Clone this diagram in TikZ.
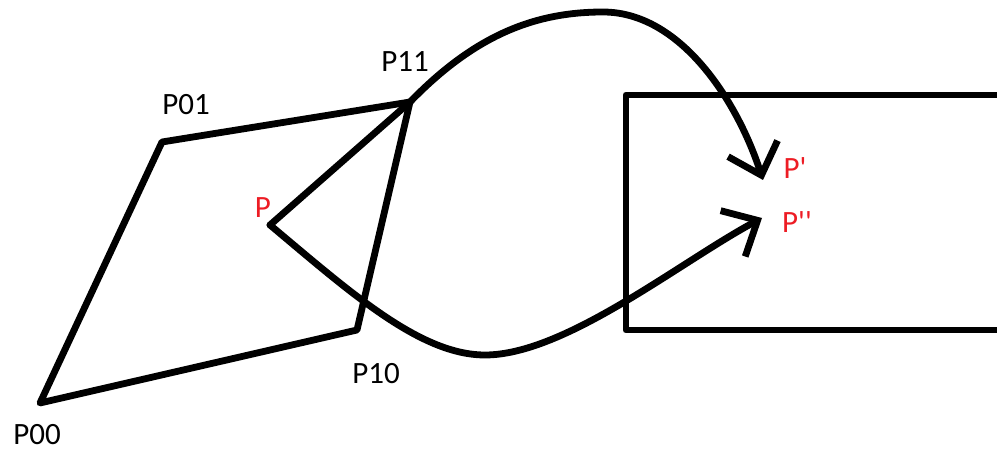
\documentclass[tikz,border=0pt]{standalone}
\usepackage{fontspec}
\setmainfont{Carlito}
\usepackage{tikz}
\usetikzlibrary{
    arrows.meta,
    positioning,
    calc
}
\usepackage{xcolor}
\definecolor{paintred}{RGB}{237, 28, 36}
\tikzstyle{stroke} = [
    draw=black,
    line width=3.4pt,
    line cap=round,
    line join=round
]
\tikzstyle{corner} = [
    font=\fontsize{15.5}{18}\selectfont,
    text=black,
    inner sep=0pt
]
\tikzstyle{mapped} = [
    font=\fontsize{15.5}{18}\selectfont,
    text=paintred,
    inner sep=0pt
]
\tikzstyle{maparrow} = [
    stroke,
    -{Straight Barb[length=14pt, width=26pt]}
]

\begin{document}
\begin{tikzpicture}[x=0.5pt, y=-0.5pt]
        \useasboundingbox (0,0) rectangle (997,454);

        % Quad corners (left)
        \coordinate (p00) at (40,403);
        \coordinate (p01) at (162,142);
        \coordinate (p11) at (410,102);
        \coordinate (p10) at (357,330);
        \coordinate (p) at (270,225);

        % Corner labels
        \node[corner] (p00label) at (37,435) {P00};
        \node[corner] (p01label) at (186,105) {P01};
        \node[corner] (p11label) at (405,62) {P11};
        \node[corner] (p10label) at (376,374) {P10};
        \node[mapped] (plabel) at (263,208) {P};

        % Target rectangle (right, cut off by the border)
        \coordinate (recttl) at (626,95);
        \coordinate (rectbl) at (626,330);
        \coordinate (recttr) at (1010,95);
        \coordinate (rectbr) at (1010,330);
        \draw[stroke, line cap=butt] (recttr) -- (recttl) -- (rectbl) -- (rectbr);

        % Mapped points
        \coordinate (ptip1) at (763,180);
        \coordinate (ptip2) at (762,218);
        \node[mapped] (p1label) at (795,168) {P\textquotesingle};
        \node[mapped] (p2label) at (797,222) {P\textquotesingle\textquotesingle};

        % Quad and the line to P
        \draw[stroke] (p00) -- (p01) -- (p11) -- (p10) -- cycle;
        \draw[stroke] (p11) -- (p);

        % Mapping arrows
        \draw[maparrow] (p11) .. controls (475,35) and (535,12) .. (603,12)
            .. controls (680,12) and (737,100) .. (ptip1);
        \draw[maparrow] (p) .. controls (350,292) and (420,355) .. (485,355)
            .. controls (565,355) and (680,262) .. (ptip2);
    \end{tikzpicture}
\end{document}
